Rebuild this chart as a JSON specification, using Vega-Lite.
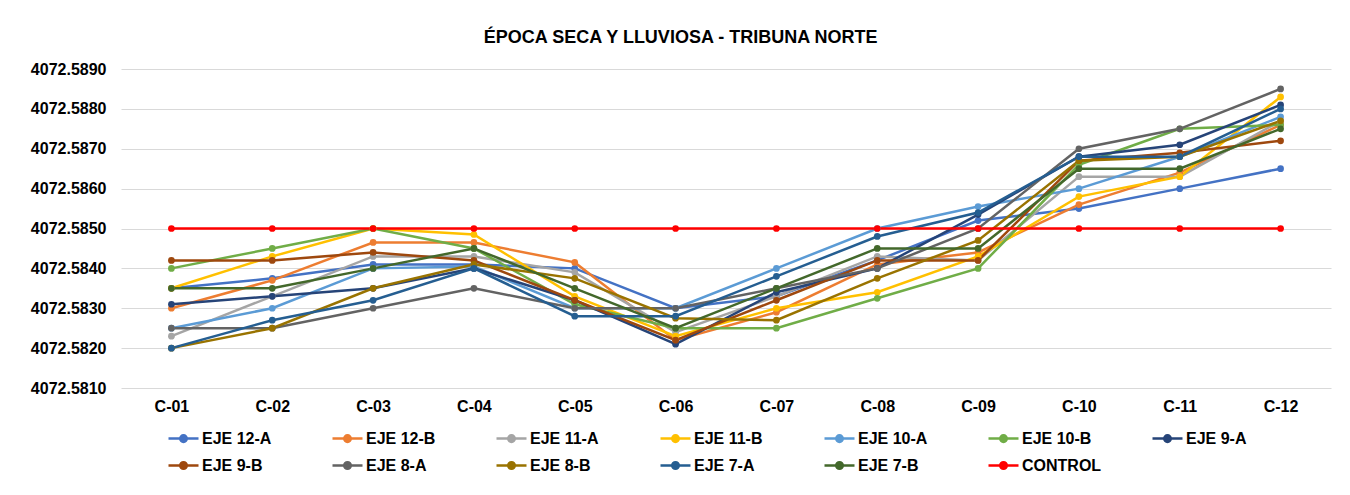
{
  "$schema": "https://vega.github.io/schema/vega-lite/v6.json",
  "width": 1210,
  "height": 319,
  "padding": {"left": 30, "top": 29, "right": 18, "bottom": 10},
  "background": "white",
  "title": {
    "text": "ÉPOCA SECA Y LLUVIOSA - TRIBUNA NORTE",
    "font": "Liberation Sans",
    "fontSize": 18,
    "fontWeight": "bold",
    "color": "#000000",
    "anchor": "middle",
    "frame": "bounds",
    "offset": 14
  },
  "config": {
    "view": {"stroke": null},
    "font": "Liberation Sans"
  },
  "data": {
    "values": [
      {"s":"EJE 12-A","c":"C-01","v":4072.5835},{"s":"EJE 12-A","c":"C-02","v":4072.58375},{"s":"EJE 12-A","c":"C-03","v":4072.5841},{"s":"EJE 12-A","c":"C-04","v":4072.5841},{"s":"EJE 12-A","c":"C-05","v":4072.5840},{"s":"EJE 12-A","c":"C-06","v":4072.5830},{"s":"EJE 12-A","c":"C-07","v":4072.5833},{"s":"EJE 12-A","c":"C-08","v":4072.5842},{"s":"EJE 12-A","c":"C-09","v":4072.5852},{"s":"EJE 12-A","c":"C-10","v":4072.5855},{"s":"EJE 12-A","c":"C-11","v":4072.5860},{"s":"EJE 12-A","c":"C-12","v":4072.5865},
      {"s":"EJE 12-B","c":"C-01","v":4072.5830},{"s":"EJE 12-B","c":"C-02","v":4072.5837},{"s":"EJE 12-B","c":"C-03","v":4072.58465},{"s":"EJE 12-B","c":"C-04","v":4072.58465},{"s":"EJE 12-B","c":"C-05","v":4072.58415},{"s":"EJE 12-B","c":"C-06","v":4072.5822},{"s":"EJE 12-B","c":"C-07","v":4072.5829},{"s":"EJE 12-B","c":"C-08","v":4072.5841},{"s":"EJE 12-B","c":"C-09","v":4072.5844},{"s":"EJE 12-B","c":"C-10","v":4072.5856},{"s":"EJE 12-B","c":"C-11","v":4072.5864},{"s":"EJE 12-B","c":"C-12","v":4072.5876},
      {"s":"EJE 11-A","c":"C-01","v":4072.5823},{"s":"EJE 11-A","c":"C-02","v":4072.5833},{"s":"EJE 11-A","c":"C-03","v":4072.5843},{"s":"EJE 11-A","c":"C-04","v":4072.5843},{"s":"EJE 11-A","c":"C-05","v":4072.5839},{"s":"EJE 11-A","c":"C-06","v":4072.5824},{"s":"EJE 11-A","c":"C-07","v":4072.5833},{"s":"EJE 11-A","c":"C-08","v":4072.5843},{"s":"EJE 11-A","c":"C-09","v":4072.5842},{"s":"EJE 11-A","c":"C-10","v":4072.5863},{"s":"EJE 11-A","c":"C-11","v":4072.5863},{"s":"EJE 11-A","c":"C-12","v":4072.5877},
      {"s":"EJE 11-B","c":"C-01","v":4072.5835},{"s":"EJE 11-B","c":"C-02","v":4072.5843},{"s":"EJE 11-B","c":"C-03","v":4072.5850},{"s":"EJE 11-B","c":"C-04","v":4072.58485},{"s":"EJE 11-B","c":"C-05","v":4072.5833},{"s":"EJE 11-B","c":"C-06","v":4072.5823},{"s":"EJE 11-B","c":"C-07","v":4072.5830},{"s":"EJE 11-B","c":"C-08","v":4072.5834},{"s":"EJE 11-B","c":"C-09","v":4072.5843},{"s":"EJE 11-B","c":"C-10","v":4072.5858},{"s":"EJE 11-B","c":"C-11","v":4072.5863},{"s":"EJE 11-B","c":"C-12","v":4072.5883},
      {"s":"EJE 10-A","c":"C-01","v":4072.5825},{"s":"EJE 10-A","c":"C-02","v":4072.5830},{"s":"EJE 10-A","c":"C-03","v":4072.5840},{"s":"EJE 10-A","c":"C-04","v":4072.58405},{"s":"EJE 10-A","c":"C-05","v":4072.5830},{"s":"EJE 10-A","c":"C-06","v":4072.5830},{"s":"EJE 10-A","c":"C-07","v":4072.5840},{"s":"EJE 10-A","c":"C-08","v":4072.5850},{"s":"EJE 10-A","c":"C-09","v":4072.58555},{"s":"EJE 10-A","c":"C-10","v":4072.5860},{"s":"EJE 10-A","c":"C-11","v":4072.5868},{"s":"EJE 10-A","c":"C-12","v":4072.5878},
      {"s":"EJE 10-B","c":"C-01","v":4072.5840},{"s":"EJE 10-B","c":"C-02","v":4072.5845},{"s":"EJE 10-B","c":"C-03","v":4072.5850},{"s":"EJE 10-B","c":"C-04","v":4072.5845},{"s":"EJE 10-B","c":"C-05","v":4072.5831},{"s":"EJE 10-B","c":"C-06","v":4072.5825},{"s":"EJE 10-B","c":"C-07","v":4072.5825},{"s":"EJE 10-B","c":"C-08","v":4072.58325},{"s":"EJE 10-B","c":"C-09","v":4072.5840},{"s":"EJE 10-B","c":"C-10","v":4072.5866},{"s":"EJE 10-B","c":"C-11","v":4072.5875},{"s":"EJE 10-B","c":"C-12","v":4072.5876},
      {"s":"EJE 9-A","c":"C-01","v":4072.5831},{"s":"EJE 9-A","c":"C-02","v":4072.5833},{"s":"EJE 9-A","c":"C-03","v":4072.5835},{"s":"EJE 9-A","c":"C-04","v":4072.5840},{"s":"EJE 9-A","c":"C-05","v":4072.5832},{"s":"EJE 9-A","c":"C-06","v":4072.5821},{"s":"EJE 9-A","c":"C-07","v":4072.5834},{"s":"EJE 9-A","c":"C-08","v":4072.5840},{"s":"EJE 9-A","c":"C-09","v":4072.58535},{"s":"EJE 9-A","c":"C-10","v":4072.5868},{"s":"EJE 9-A","c":"C-11","v":4072.5871},{"s":"EJE 9-A","c":"C-12","v":4072.5881},
      {"s":"EJE 9-B","c":"C-01","v":4072.5842},{"s":"EJE 9-B","c":"C-02","v":4072.5842},{"s":"EJE 9-B","c":"C-03","v":4072.5844},{"s":"EJE 9-B","c":"C-04","v":4072.5842},{"s":"EJE 9-B","c":"C-05","v":4072.5832},{"s":"EJE 9-B","c":"C-06","v":4072.5822},{"s":"EJE 9-B","c":"C-07","v":4072.5832},{"s":"EJE 9-B","c":"C-08","v":4072.5842},{"s":"EJE 9-B","c":"C-09","v":4072.5842},{"s":"EJE 9-B","c":"C-10","v":4072.5867},{"s":"EJE 9-B","c":"C-11","v":4072.5869},{"s":"EJE 9-B","c":"C-12","v":4072.5872},
      {"s":"EJE 8-A","c":"C-01","v":4072.5825},{"s":"EJE 8-A","c":"C-02","v":4072.5825},{"s":"EJE 8-A","c":"C-03","v":4072.5830},{"s":"EJE 8-A","c":"C-04","v":4072.5835},{"s":"EJE 8-A","c":"C-05","v":4072.5830},{"s":"EJE 8-A","c":"C-06","v":4072.5830},{"s":"EJE 8-A","c":"C-07","v":4072.5835},{"s":"EJE 8-A","c":"C-08","v":4072.5840},{"s":"EJE 8-A","c":"C-09","v":4072.5850},{"s":"EJE 8-A","c":"C-10","v":4072.5870},{"s":"EJE 8-A","c":"C-11","v":4072.5875},{"s":"EJE 8-A","c":"C-12","v":4072.5885},
      {"s":"EJE 8-B","c":"C-01","v":4072.5820},{"s":"EJE 8-B","c":"C-02","v":4072.5825},{"s":"EJE 8-B","c":"C-03","v":4072.5835},{"s":"EJE 8-B","c":"C-04","v":4072.5841},{"s":"EJE 8-B","c":"C-05","v":4072.58375},{"s":"EJE 8-B","c":"C-06","v":4072.58275},{"s":"EJE 8-B","c":"C-07","v":4072.5827},{"s":"EJE 8-B","c":"C-08","v":4072.58375},{"s":"EJE 8-B","c":"C-09","v":4072.5847},{"s":"EJE 8-B","c":"C-10","v":4072.5867},{"s":"EJE 8-B","c":"C-11","v":4072.5868},{"s":"EJE 8-B","c":"C-12","v":4072.5877},
      {"s":"EJE 7-A","c":"C-01","v":4072.5820},{"s":"EJE 7-A","c":"C-02","v":4072.5827},{"s":"EJE 7-A","c":"C-03","v":4072.5832},{"s":"EJE 7-A","c":"C-04","v":4072.5840},{"s":"EJE 7-A","c":"C-05","v":4072.5828},{"s":"EJE 7-A","c":"C-06","v":4072.5828},{"s":"EJE 7-A","c":"C-07","v":4072.5838},{"s":"EJE 7-A","c":"C-08","v":4072.5848},{"s":"EJE 7-A","c":"C-09","v":4072.5854},{"s":"EJE 7-A","c":"C-10","v":4072.5868},{"s":"EJE 7-A","c":"C-11","v":4072.5868},{"s":"EJE 7-A","c":"C-12","v":4072.5880},
      {"s":"EJE 7-B","c":"C-01","v":4072.5835},{"s":"EJE 7-B","c":"C-02","v":4072.5835},{"s":"EJE 7-B","c":"C-03","v":4072.5840},{"s":"EJE 7-B","c":"C-04","v":4072.5845},{"s":"EJE 7-B","c":"C-05","v":4072.5835},{"s":"EJE 7-B","c":"C-06","v":4072.5825},{"s":"EJE 7-B","c":"C-07","v":4072.5835},{"s":"EJE 7-B","c":"C-08","v":4072.5845},{"s":"EJE 7-B","c":"C-09","v":4072.5845},{"s":"EJE 7-B","c":"C-10","v":4072.5865},{"s":"EJE 7-B","c":"C-11","v":4072.5865},{"s":"EJE 7-B","c":"C-12","v":4072.5875},
      {"s":"CONTROL","c":"C-01","v":4072.5850},{"s":"CONTROL","c":"C-02","v":4072.5850},{"s":"CONTROL","c":"C-03","v":4072.5850},{"s":"CONTROL","c":"C-04","v":4072.5850},{"s":"CONTROL","c":"C-05","v":4072.5850},{"s":"CONTROL","c":"C-06","v":4072.5850},{"s":"CONTROL","c":"C-07","v":4072.5850},{"s":"CONTROL","c":"C-08","v":4072.5850},{"s":"CONTROL","c":"C-09","v":4072.5850},{"s":"CONTROL","c":"C-10","v":4072.5850},{"s":"CONTROL","c":"C-11","v":4072.5850},{"s":"CONTROL","c":"C-12","v":4072.5850}
    ]
  },
  "mark": {"type": "line", "strokeWidth": 2.5, "point": {"filled": true, "size": 45}},
  "encoding": {
    "x": {
      "field": "c",
      "type": "nominal",
      "title": null,
      "axis": {
        "labelAngle": 0,
        "labelFontSize": 16,
        "labelFontWeight": "bold",
        "labelColor": "#000000",
        "labelPadding": 10,
        "ticks": false,
        "domain": false,
        "grid": false
      }
    },
    "y": {
      "field": "v",
      "type": "quantitative",
      "title": null,
      "scale": {"domain": [4072.581, 4072.589], "zero": false, "nice": false},
      "axis": {
        "values": [4072.581, 4072.582, 4072.583, 4072.584, 4072.585, 4072.586, 4072.587, 4072.588, 4072.589],
        "format": ".4f",
        "labelFontSize": 16,
        "labelFontWeight": "bold",
        "labelColor": "#000000",
        "labelPadding": 15,
        "ticks": false,
        "domain": false,
        "gridColor": "#D9D9D9",
        "gridWidth": 1
      }
    },
    "color": {
      "field": "s",
      "type": "nominal",
      "title": null,
      "scale": {
        "domain": ["EJE 12-A","EJE 12-B","EJE 11-A","EJE 11-B","EJE 10-A","EJE 10-B","EJE 9-A","EJE 9-B","EJE 8-A","EJE 8-B","EJE 7-A","EJE 7-B","CONTROL"],
        "range": ["#4472C4","#ED7D31","#A5A5A5","#FFC000","#5B9BD5","#70AD47","#264478","#9E480E","#636363","#997300","#255E91","#43682B","#FF0000"]
      },
      "legend": {
        "orient": "none",
        "legendX": 46,
        "legendY": 353,
        "direction": "horizontal",
        "columns": 7,
        "gridAlign": "all",
        "columnPadding": 45,
        "rowPadding": 2,
        "labelFontSize": 16,
        "labelFontWeight": "bold",
        "labelColor": "#000000",
        "labelOffset": 2,
        "symbolType": "M-1,0L1,0M0.22,0A0.22,0.22,0,1,1,-0.22,0A0.22,0.22,0,1,1,0.22,0",
        "symbolSize": 900,
        "symbolStrokeWidth": 2.5,
        "encode": {"symbols": {"update": {"fill": {"scale": "color", "field": "value"}}}}
      }
    }
  }
}
